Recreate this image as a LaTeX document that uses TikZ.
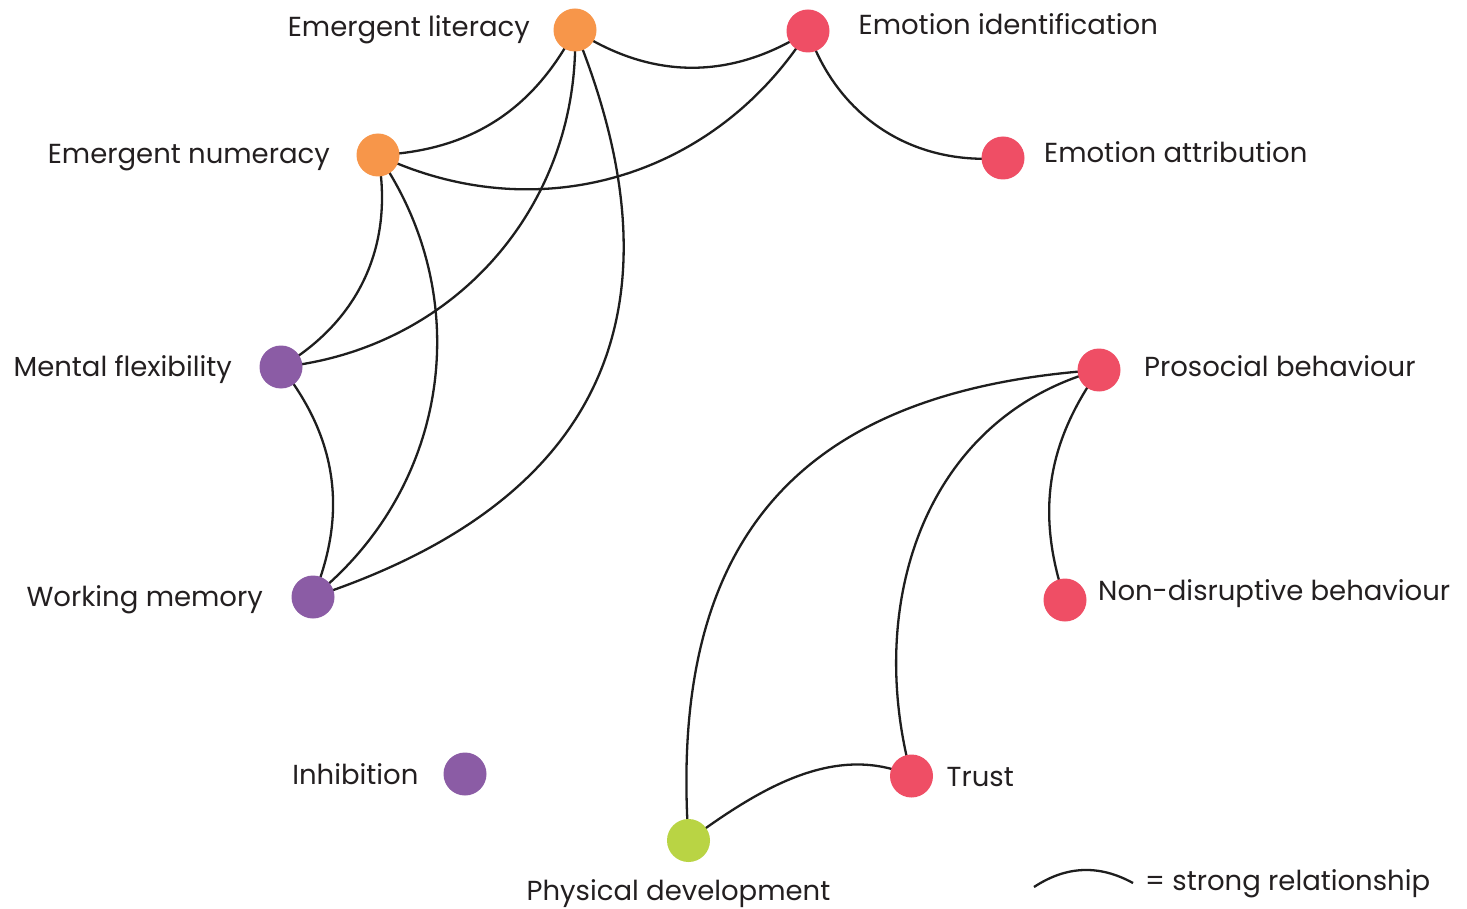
\documentclass[tikz,border=0pt]{standalone}
\usepackage{fontspec}
\setmainfont{Poppins}
\usetikzlibrary{calc}
\pgfdeclarelayer{background}
\pgfdeclarelayer{paper}
\pgfsetlayers{paper,background,main}
\definecolor{corange}{HTML}{F7964A}
\definecolor{cred}{HTML}{EF4E65}
\definecolor{cpurple}{HTML}{8B5CA5}
\definecolor{cgreen}{HTML}{B9D444}
\definecolor{ctext}{HTML}{231F20}
\definecolor{cline}{HTML}{1E1E1E}
\tikzset{
  dot/.style={circle, minimum size=43pt, inner sep=0pt, draw=none},
  lbl/.style={inner sep=0pt, text=ctext, font=\fontsize{27.5}{31}\selectfont},
  rel/.style={draw=cline, line width=2.3pt},
}
\begin{document}
\begin{tikzpicture}[x=1pt,y=-1pt]
\begin{pgfonlayer}{paper}
\fill[white] (0,0) rectangle (1467,909);
\end{pgfonlayer}
\useasboundingbox (0,0) rectangle (1467,909);
% nodes
\node[dot, fill=corange] (lit) at (575,30) {};
\node[dot, fill=cred] (ide) at (808,31) {};
\node[dot, fill=corange] (num) at (378,155) {};
\node[dot, fill=cred] (att) at (1003,158) {};
\node[dot, fill=cpurple] (mfl) at (281,367) {};
\node[dot, fill=cred] (pro) at (1099,370) {};
\node[dot, fill=cpurple] (wme) at (313,597) {};
\node[dot, fill=cred] (ndb) at (1065,600) {};
\node[dot, fill=cpurple] (inh) at (465,774) {};
\node[dot, fill=cred] (tru) at (911.5,776) {};
\node[dot, fill=cgreen] (phy) at (688.5,840.5) {};
% labels
\node[lbl, anchor=base east] (litl) at (530,37) {Emergent literacy};
\node[lbl, anchor=base west] (idel) at (858.5,35) {Emotion identification};
\node[lbl, anchor=base east] (numl) at (330,164) {Emergent numeracy};
\node[lbl, anchor=base west] (attl) at (1044,162.5) {Emotion attribution};
\node[lbl, anchor=base east] (mfll) at (232,376.7) {Mental flexibility};
\node[lbl, anchor=base west] (prol) at (1144,376) {Prosocial behaviour};
\node[lbl, anchor=base east] (wmel) at (263,606.5) {Working memory};
\node[lbl, anchor=base west] (ndbl) at (1098,600) {Non-disruptive behaviour};
\node[lbl, anchor=base east] (inhl) at (418.6,784) {Inhibition};
\node[lbl, anchor=base west] (trul) at (946.5,786) {Trust};
\node[lbl, anchor=base] (phyl) at (678.5,900) {Physical development};
\node[lbl, anchor=base west] (legl) at (1145,890) {= strong relationship};
\coordinate (lega) at (1034,887);
\coordinate (legb) at (1133,883);
% connectors
\begin{pgfonlayer}{background}
\draw[rel] (lit.center) to[bend right=33] (ide.center);
\draw[rel] (num.center) to[bend right=30] (lit.center);
\draw[rel] (lit.center) to[bend left=43] (mfl.center);
\draw[rel] (lit.center) to[bend left=47, looseness=1.245] (wme.center);
\draw[rel] (ide.center) to[bend left=41.5] (num.center);
\draw[rel] (ide.center) to[bend right=38] (att.center);
\draw[rel] (num.center) to[bend left=35] (mfl.center);
\draw[rel] (num.center) to[bend left=43] (wme.center);
\draw[rel] (mfl.center) to[bend left=30.5] (wme.center);
\draw[rel] (pro.center) to[out=-45, in=225, relative, looseness=1.235] (phy.center);
\draw[rel] (pro.center) to[out=-50, in=220, relative, looseness=1.03] (tru.center);
\draw[rel] (pro.center) to[bend right=27] (ndb.center);
\draw[rel] (tru.center) to[out=-40, in=200, relative, looseness=0.935] (phy.center);
\draw[rel] (lega) to[bend left=31] (legb);
\end{pgfonlayer}
\end{tikzpicture}
\end{document}
